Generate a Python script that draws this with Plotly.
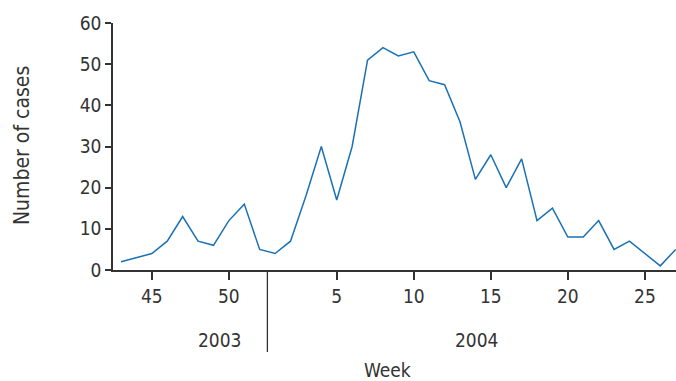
import plotly.graph_objects as go

# Weekly case counts: 2003 weeks 43-52, then 2004 weeks 1-27
weeks_2003 = list(range(43, 53))
cases_2003 = [2, 3, 4, 7, 13, 7, 6, 12, 16, 5]
weeks_2004 = list(range(1, 28))
cases_2004 = [4, 7, 18, 30, 17, 30, 51, 54, 52, 53, 46, 45, 36, 22, 28,
              20, 27, 12, 15, 8, 8, 12, 5, 7, 4, 1, 5]

tick_weeks_2003 = [45, 50]
tick_weeks_2004 = [5, 10, 15, 20, 25]
year_labels = ["2003", "2004"]

# Continuous position along the time axis
week_labels = [(2003, w) for w in weeks_2003] + [(2004, w) for w in weeks_2004]
pos = list(range(len(week_labels)))
cases = cases_2003 + cases_2004

tickvals = [pos[week_labels.index((2003, w))] for w in tick_weeks_2003] + \
           [pos[week_labels.index((2004, w))] for w in tick_weeks_2004]
ticktext = [str(w) for w in tick_weeks_2003 + tick_weeks_2004]
year_break = len(weeks_2003) - 0.5

FONT = "DejaVu Sans Condensed, Liberation Sans Narrow, Roboto, sans-serif"
AXIS = "#333333"
FS = 19

fig = go.Figure(go.Scatter(
    x=pos, y=cases, mode="lines",
    line=dict(color="#1a72b4", width=1.5),
    hoverinfo="skip", showlegend=False,
))

fig.update_layout(
    width=676, height=381,
    margin=dict(l=113, r=0, t=23, b=111),
    paper_bgcolor="white", plot_bgcolor="white",
    font=dict(family=FONT, size=FS, color=AXIS),
    xaxis=dict(
        range=[-0.52, len(pos) - 1 + 0.02],
        tickvals=tickvals, ticktext=ticktext,
        ticks="outside", ticklen=8, tickwidth=1.5, tickcolor=AXIS,
        showline=True, linecolor=AXIS, linewidth=1.5,
        showgrid=False, zeroline=False,
        tickfont=dict(family=FONT, size=FS, color=AXIS),
    ),
    yaxis=dict(
        range=[0, 60], tickvals=[0, 10, 20, 30, 40, 50, 60],
        ticks="outside", ticklen=6, tickwidth=1.5, tickcolor=AXIS,
        showline=True, linecolor=AXIS, linewidth=1.5,
        showgrid=False, zeroline=False,
        tickfont=dict(family=FONT, size=FS, color=AXIS),
    ),
    shapes=[dict(
        type="line", xref="x", yref="paper",
        x0=year_break, x1=year_break, y0=0, y1=-0.332,
        line=dict(color=AXIS, width=1.3),
    )],
    annotations=[
        dict(text=year_labels[0], x=6.4, y=-0.283, xref="x", yref="paper",
             xanchor="center", yanchor="middle", showarrow=False,
             font=dict(family=FONT, size=FS, color=AXIS)),
        dict(text=year_labels[1], x=23.1, y=-0.283, xref="x", yref="paper",
             xanchor="center", yanchor="middle", showarrow=False,
             font=dict(family=FONT, size=FS, color=AXIS)),
        dict(text="Week", x=0.488, y=-0.403, xref="paper", yref="paper",
             xanchor="center", yanchor="middle", showarrow=False,
             font=dict(family=FONT, size=19, color=AXIS)),
        dict(text="Number of cases", x=-0.162, y=0.505, xref="paper", yref="paper",
             xanchor="center", yanchor="middle", textangle=-90, showarrow=False,
             font=dict(family=FONT, size=21, color=AXIS)),
    ],
)

fig.write_html("out.html")
